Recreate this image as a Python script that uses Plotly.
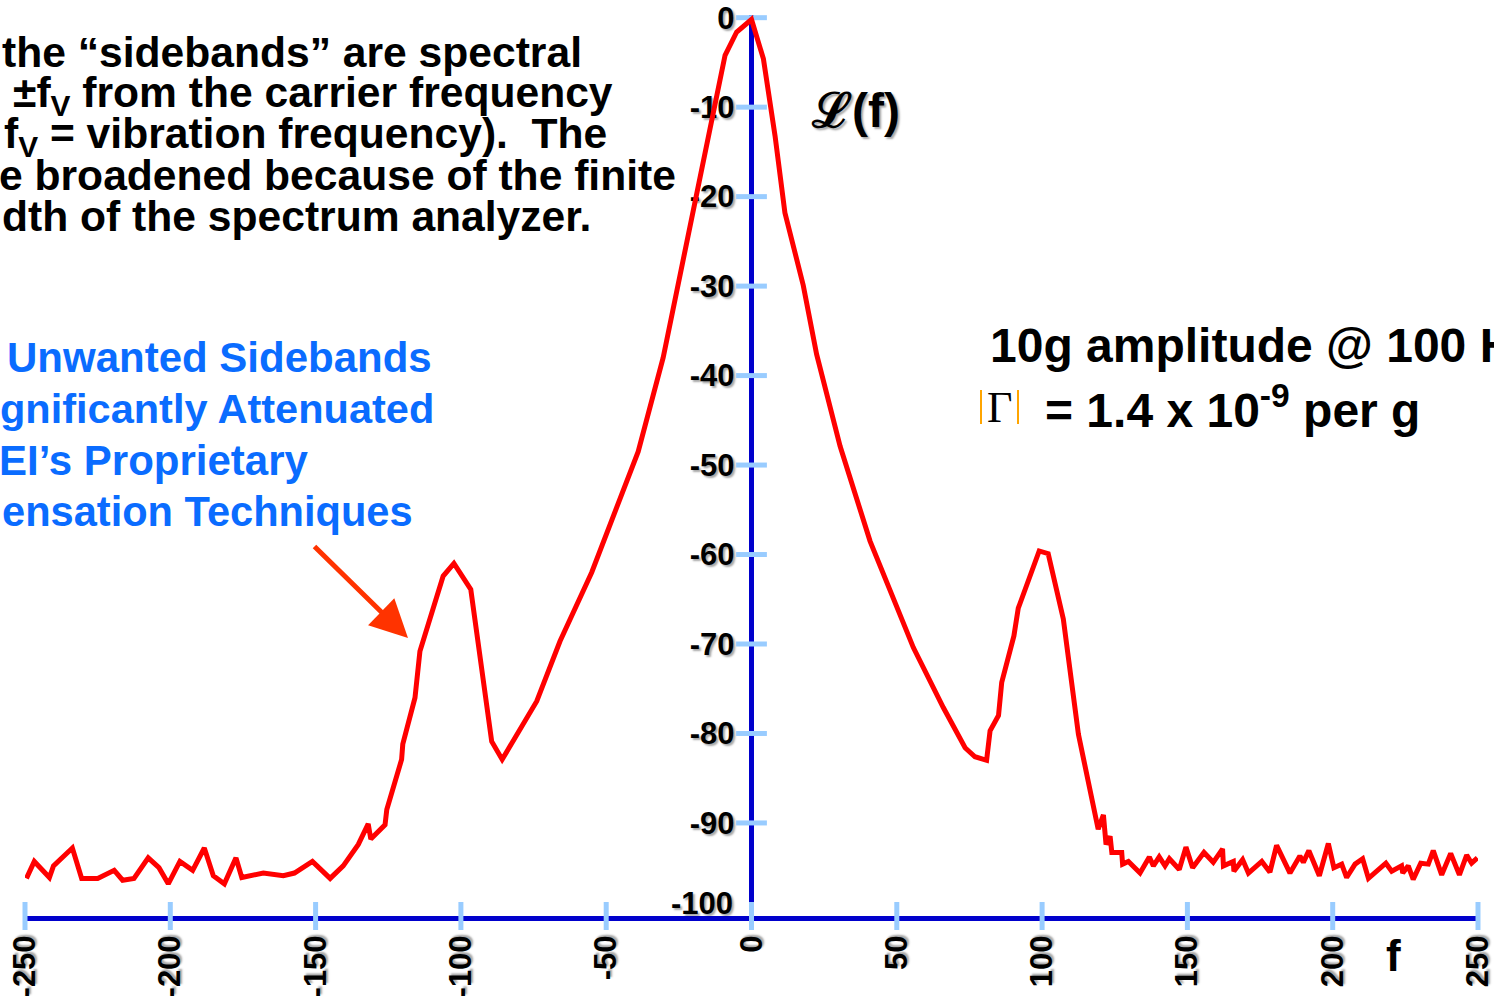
import plotly.graph_objects as go

# ---- data ----
freq = [-249.5, -246.8, -241.6, -240.2, -233.7, -230.5, -225.0, -219.3, -216.4, -212.5,
        -207.6, -203.9, -200.7, -196.7, -192.3, -188.3, -185.2, -181.4, -177.4, -175.4,
        -168.0, -161.1, -157.3, -151.1, -145.0, -140.5, -135.3, -131.9, -131.0, -126.1,
        -125.5, -120.4, -120.0, -115.8, -114.1, -106.1, -102.4, -96.6, -89.4, -85.8,
        -73.9, -65.9, -55.0, -39.0, -30.4, -20.0, -9.1, -5.1, 0.0,
        4.1, 8.1, 11.5, 17.8, 22.4, 30.5, 40.8, 55.7, 66.0, 73.5,
        76.9, 80.9, 82.1, 85.0, 86.1, 90.3, 91.8, 99.0, 102.1, 107.3,
        112.5, 117.1, 119.3, 121.1, 122.0, 123.4, 124.0, 127.4, 127.7, 129.7,
        133.7, 136.9, 138.3, 140.3, 142.3, 143.8, 147.2, 149.5, 151.8, 155.7,
        158.9, 162.1, 162.4, 165.8, 166.0, 169.0, 171.0, 175.6, 178.4, 180.7,
        185.3, 188.7, 189.9, 191.8, 195.4, 198.5, 200.4, 203.1, 204.8, 207.7,
        210.3, 212.3, 218.3, 220.3, 223.7, 224.1, 226.0, 227.7, 230.3, 232.9,
        234.6, 237.5, 240.6, 243.6, 246.1, 247.8, 249.8]
level = [-96.2, -94.3, -96.1, -94.8, -92.8, -96.2, -96.2, -95.3, -96.4, -96.2,
         -93.9, -95.0, -96.8, -94.3, -95.3, -92.8, -95.9, -96.8, -93.9, -96.1,
         -95.6, -95.9, -95.6, -94.3, -96.2, -94.8, -92.4, -90.1, -91.8, -90.2,
         -88.5, -82.9, -81.2, -76.0, -70.8, -62.4, -61.0, -63.9, -80.9, -82.9,
         -76.4, -69.7, -62.0, -48.5, -38.0, -21.3, -4.2, -1.6, -0.2,
         -4.6, -13.2, -21.8, -29.9, -37.6, -47.9, -58.5, -70.4, -77.1, -81.6,
         -82.6, -83.0, -79.7, -78.0, -74.3, -69.1, -66.0, -59.6, -59.9, -67.2,
         -80.1, -87.4, -90.7, -89.1, -92.4, -91.5, -93.3, -93.3, -94.6, -94.3,
         -95.6, -93.8, -94.8, -93.8, -94.8, -94.0, -95.2, -92.7, -95.0, -93.3,
         -94.4, -92.9, -94.8, -94.3, -95.4, -94.1, -95.6, -94.3, -95.5, -92.5,
         -95.6, -93.7, -94.4, -93.1, -95.9, -92.3, -95.0, -94.6, -96.1, -94.6,
         -94.0, -96.2, -94.5, -95.4, -94.8, -95.6, -94.8, -96.3, -94.5, -94.6,
         -93.1, -95.8, -93.4, -95.8, -93.6, -94.5, -93.9]

x_ticks = [-250, -200, -150, -100, -50, 0, 50, 100, 150, 200, 250]
y_ticks = [0, -10, -20, -30, -40, -50, -60, -70, -80, -90]
y_min, y_max = -100.4, 0.3

# ---- layout helpers (pixel -> paper) ----
W, H = 1494, 996
ML, MR, MT, MB = 25, 16, 15, 80
PW, PH = W - ML - MR, H - MT - MB


def px(xp):
    return (xp - ML) / PW


def py(yp):
    return (H - MB - yp) / PH


FONT = "Liberation Sans, Arial, sans-serif"
SHADOW = "2px 2px 2px rgba(0,0,0,0.35)"
AXIS_BLUE = "#0000cc"
TICK_BLUE = "#99ccff"

fig = go.Figure()

# tick marks crossing the axes
fig.add_trace(go.Scatter(
    x=[0] * len(y_ticks), y=y_ticks, mode="markers", cliponaxis=False,
    marker=dict(symbol="line-ew", size=22, line=dict(width=5, color=TICK_BLUE)),
    hoverinfo="skip", showlegend=False))
fig.add_trace(go.Scatter(
    x=x_ticks, y=[y_min] * len(x_ticks), mode="markers", cliponaxis=False,
    marker=dict(symbol="line-ns", size=20, line=dict(width=5, color=TICK_BLUE)),
    hoverinfo="skip", showlegend=False))

# spectrum curve
fig.add_trace(go.Scatter(
    x=freq, y=level, mode="lines", line=dict(color="#ff0000", width=5),
    showlegend=False))

fig.update_layout(
    width=W, height=H,
    margin=dict(l=ML, r=MR, t=MT, b=MB, autoexpand=False),
    paper_bgcolor="white", plot_bgcolor="white",
    font=dict(family=FONT, color="black"),
    xaxis=dict(
        range=[-250, 250], tickvals=x_ticks, ticktext=[str(v) for v in x_ticks],
        tickangle=-90, ticks="", showgrid=False, automargin=False,
        showline=True, linecolor=AXIS_BLUE, linewidth=5,
        zeroline=True, zerolinecolor=AXIS_BLUE, zerolinewidth=5,
        layer="below traces", ticklabelstandoff=2, ticklabeloverflow="allow",
        tickfont=dict(family=FONT, size=31, weight="bold", color="black", shadow=SHADOW),
    ),
    yaxis=dict(
        range=[y_min, y_max], tickvals=y_ticks, ticktext=[str(v) for v in y_ticks],
        anchor="free", position=0.5, side="left", ticks="", showgrid=False,
        automargin=False,
        showline=False, zeroline=False, layer="below traces", ticklabelstandoff=17,
        tickfont=dict(family=FONT, size=31, weight="bold", color="black", shadow=SHADOW),
    ),
)

ann = []


def text(t, xp, yp, size, color="black", anchor="left", family=FONT, weight="bold", shadow=None):
    f = dict(family=family, size=size, color=color, weight=weight)
    if shadow:
        f["shadow"] = shadow
    ann.append(dict(text=t, x=px(xp), y=py(yp), xref="paper", yref="paper",
                    xanchor=anchor, yanchor="middle", showarrow=False, font=f))


# top-left explanation (cropped at the left edge as in the reference)
TS = 42.6
text("the “sidebands” are spectral", 0, 52, TS)
text("±f<sub>V</sub> from the carrier frequency", 11, 95, TS)
text("f<sub>V</sub> = vibration frequency).\u00a0 The", 2, 136, TS)
text("e broadened because of the finite", -3, 175, TS)
text("dth of the spectrum analyzer.", 0, 216, TS)

# blue annotation
BLUE = "#0a6cff"
text("Unwanted Sidebands", 5, 357, 42, BLUE)
text("gnificantly Attenuated", -2, 408, 41.5, BLUE)
text("EI’s Proprietary", -3, 460, 42, BLUE)
text("ensation Techniques", 0, 512, 41.6, BLUE)

# right-hand texts
text("10g amplitude @ 100 Hz", 988, 345, 48)
text("= 1.4 x 10<sup>-9</sup> per g", 1043, 407, 48)
text("Γ", 999, 407, 44, anchor="center", family="Liberation Serif, Times New Roman, serif",
     weight="normal")

# axis symbols
text("ℒ(f)", 855, 110, 48, anchor="center", shadow="2px 2px 2px rgba(0,0,0,0.35)")
text("f", 1393, 955, 44, anchor="center")
text("-100", 735, 903, 31, anchor="right", shadow=SHADOW)

# arrow pointing at the left sideband
ann.append(dict(x=px(408), y=py(638), xref="paper", yref="paper", text="",
                showarrow=True, ax=313 - 408, ay=545 - 638,
                arrowcolor="#ff3300", arrowwidth=5, arrowhead=2, arrowsize=1.5))

fig.update_layout(annotations=ann)

# orange bracket marks around Gamma
for xb in (981, 1018):
    fig.add_shape(type="line", xref="paper", yref="paper",
                  x0=px(xb), x1=px(xb), y0=py(390), y1=py(424),
                  line=dict(color="#ffa500", width=2))

fig.write_html("out.html", config={"displayModeBar": False},
               post_script="document.body.style.margin='0px';document.body.style.overflow='hidden';")
